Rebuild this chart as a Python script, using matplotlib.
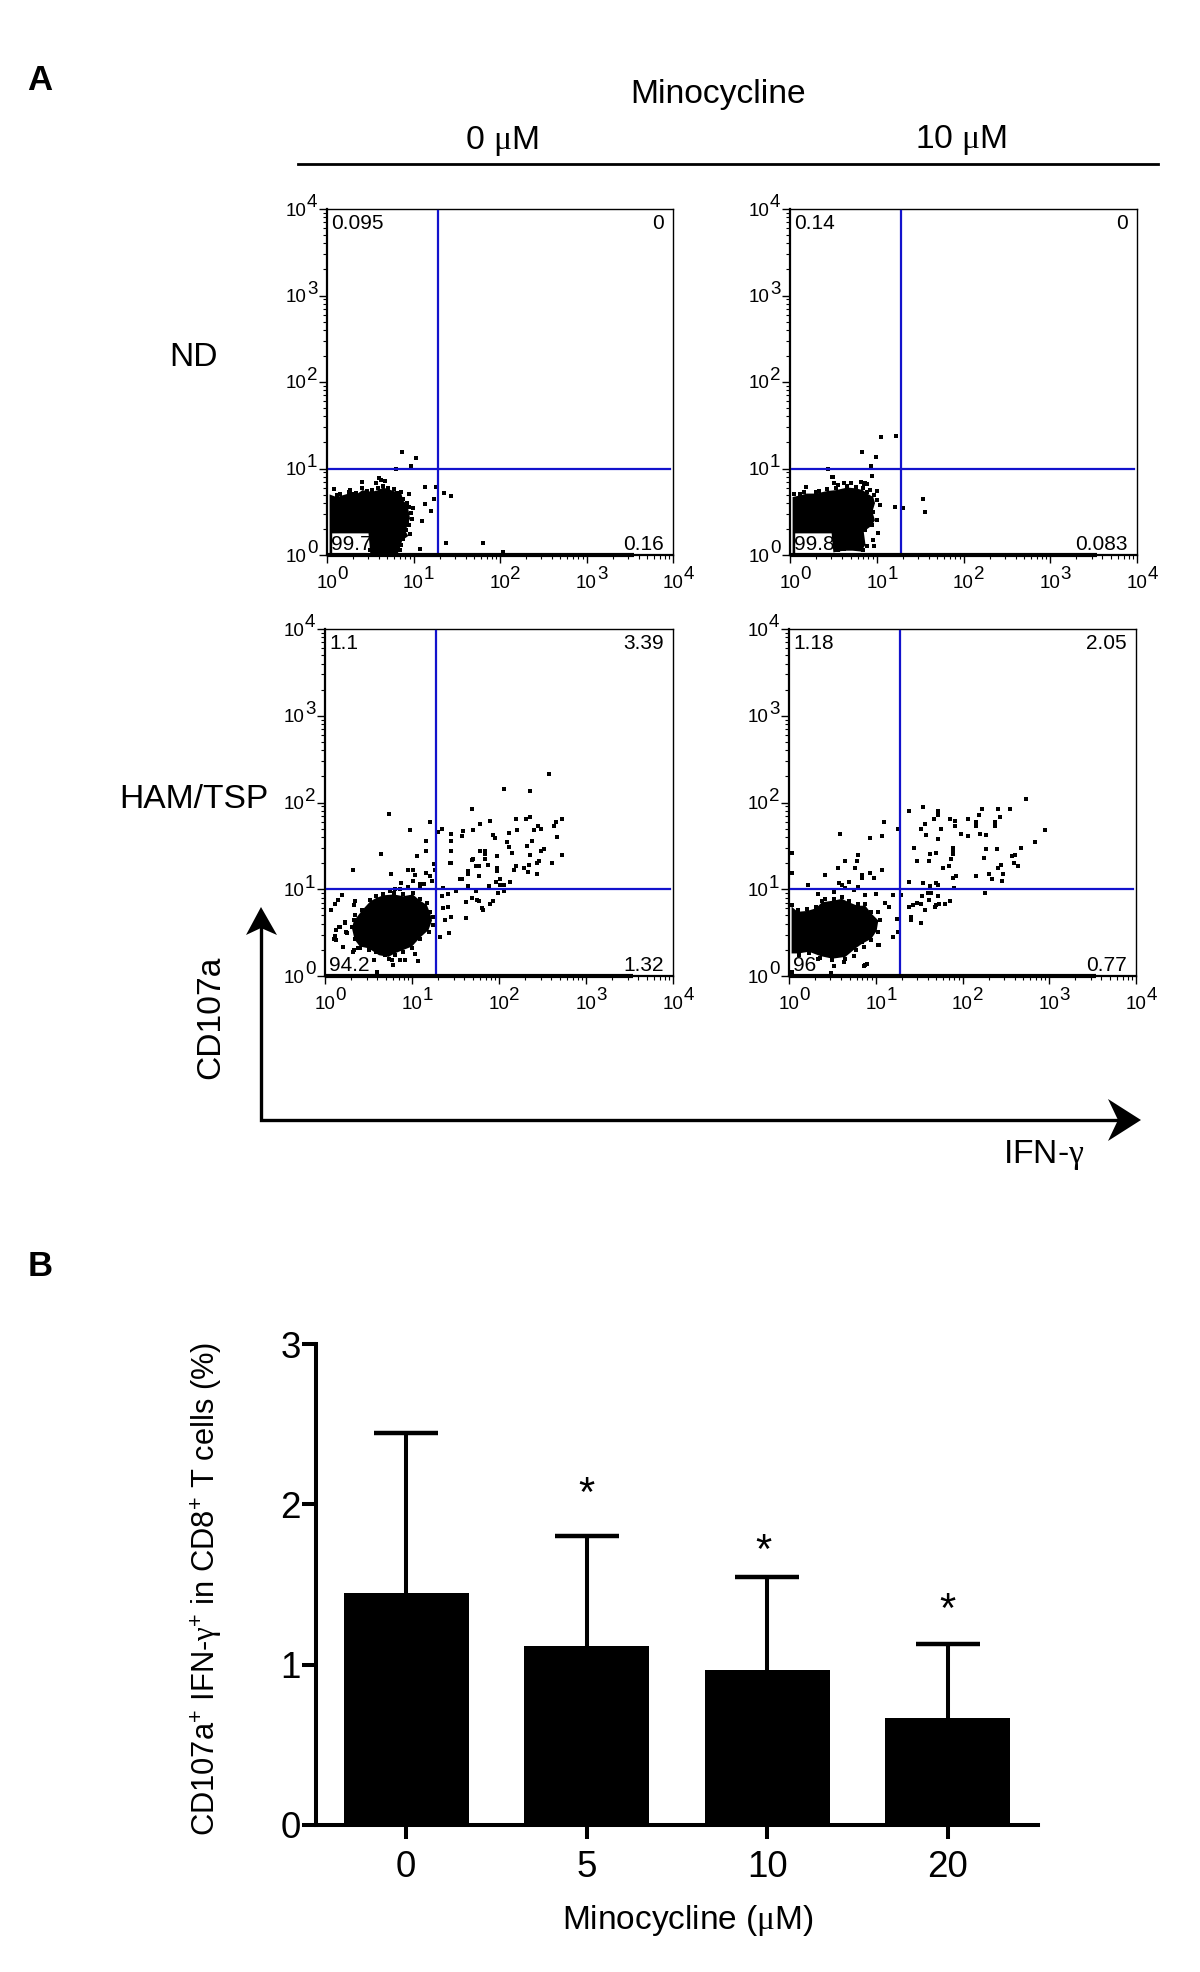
import matplotlib
matplotlib.use('Agg')
import matplotlib.pyplot as plt
from matplotlib.patches import Polygon
from matplotlib.ticker import LogLocator, NullFormatter
import numpy as np

plt.rcParams['font.family'] = ['Liberation Sans', 'DejaVu Sans']
plt.rcParams['mathtext.fontset'] = 'custom'
plt.rcParams['mathtext.rm'] = 'Liberation Sans'
plt.rcParams['mathtext.it'] = 'Liberation Sans'
plt.rcParams['mathtext.tt'] = 'Liberation Serif'
plt.rcParams['mathtext.default'] = 'regular'

W, H = 1200, 1972

# flow panels: events as (log10 IFN-g, log10 CD107a), dense cluster as an outline
nd_0_events = [(0.87, 1.19), (1.03, 1.12), (0.97, 1.03), (0.80, 0.99), (1.13, 0.79), (1.26, 0.79), (1.35, 0.72),
               (1.43, 0.68), (1.24, 0.65), (1.13, 0.59), (1.20, 0.51), (1.10, 0.39), (1.37, 0.14), (1.80, 0.14),
               (1.07, 0.07), (2.04, 0.03), (0.08, 0.76), (0.27, 0.75), (0.41, 0.84), (0.57, 0.83),
               (0.60, 0.89), (0.63, 0.87), (0.67, 0.85), (0.41, 0.77), (0.34, 0.72), (0.52, 0.75), (0.71, 0.78),
               (0.77, 0.76), (0.86, 0.73), (0.95, 0.71), (0.81, 0.72), (0.88, 0.65), (0.93, 0.60), (0.95, 0.56),
               (0.99, 0.54), (0.97, 0.48), (0.98, 0.42), (0.95, 0.35), (0.96, 0.24), (0.91, 0.29), (0.88, 0.19),
               (0.86, 0.12), (0.84, 0.06), (0.73, 0.06), (0.65, 0.10), (0.55, 0.08), (0.50, 0.06), (0.11, 0.69),
               (0.15, 0.71), (0.25, 0.73), (0.30, 0.71), (0.46, 0.74), (0.59, 0.77), (0.65, 0.80), (0.82, 0.64),
               (0.90, 0.46), (0.93, 0.38)]
nd_0_core = [(0.03, 0.70), (0.11, 0.67), (0.25, 0.71), (0.34, 0.70), (0.41, 0.75), (0.52, 0.73), (0.59, 0.75),
             (0.65, 0.78), (0.71, 0.76), (0.77, 0.74), (0.86, 0.71), (0.88, 0.63), (0.93, 0.58), (0.95, 0.48),
             (0.96, 0.42), (0.93, 0.35), (0.91, 0.27), (0.94, 0.22), (0.87, 0.17), (0.85, 0.10), (0.82, 0.02),
             (0.50, 0.02), (0.48, 0.25), (0.06, 0.25), (0.06, 0.02), (0.03, 0.02)]

nd_10_events = [(1.05, 1.36), (1.22, 1.38), (0.83, 1.19), (0.99, 1.13), (0.93, 1.03), (0.94, 0.91), (0.48, 0.90),
                (1.53, 0.65), (1.56, 0.50), (1.30, 0.54), (1.21, 0.56), (0.44, 0.99), (0.85, 0.82), (0.89, 0.82),
                (0.49, 0.90), (0.51, 0.83), (0.55, 0.81), (0.62, 0.83), (0.70, 0.83), (0.82, 0.84), (0.87, 0.83),
                (0.92, 0.75), (1.00, 0.74), (0.84, 0.77), (0.76, 0.79), (0.66, 0.80), (0.53, 0.77), (0.43, 0.76),
                (0.33, 0.74), (0.30, 0.73), (0.19, 0.79), (0.16, 0.73), (0.12, 0.71), (0.05, 0.70), (0.89, 0.73),
                (0.97, 0.69), (1.00, 0.64), (1.04, 0.58), (0.96, 0.50), (1.00, 0.40), (0.95, 0.35), (1.01, 0.25),
                (0.96, 0.17), (0.87, 0.29), (0.89, 0.10), (0.97, 0.10), (0.84, 0.06), (0.72, 0.08), (0.62, 0.07),
                (0.55, 0.06)]
nd_10_core = [(0.03, 0.67), (0.12, 0.69), (0.19, 0.71), (0.30, 0.71), (0.43, 0.74), (0.53, 0.75), (0.66, 0.78),
              (0.76, 0.77), (0.84, 0.75), (0.89, 0.71), (0.96, 0.67), (0.98, 0.60), (0.95, 0.50), (0.98, 0.40),
              (0.93, 0.33), (0.85, 0.27), (0.87, 0.12), (0.82, 0.04), (0.72, 0.05), (0.62, 0.05), (0.50, 0.03),
              (0.48, 0.25), (0.06, 0.25), (0.06, 0.02), (0.03, 0.02)]

ham_0_events = [(2.57, 2.33), (2.06, 2.15), (2.36, 2.13), (1.69, 1.92), (0.73, 1.87), (2.36, 1.83), (2.20, 1.81),
                (2.31, 1.81), (2.72, 1.81), (1.90, 1.79), (1.21, 1.77), (2.66, 1.77), (2.63, 1.73), (1.78, 1.75),
                (0.98, 1.68), (1.34, 1.70), (1.30, 1.66), (1.59, 1.67), (1.70, 1.68), (2.21, 1.68), (2.40, 1.68),
                (2.45, 1.73), (2.48, 1.70), (1.45, 1.64), (1.93, 1.63), (2.12, 1.65), (1.57, 1.61), (1.95, 1.59),
                (2.67, 1.60), (1.16, 1.56), (1.45, 1.56), (2.38, 1.56), (2.09, 1.55), (2.32, 1.50), (2.12, 1.49),
                (2.15, 1.42), (0.64, 1.41), (1.16, 1.44), (1.45, 1.44), (1.78, 1.44), (1.84, 1.44), (1.84, 1.41),
                (2.48, 1.44), (2.52, 1.46), (2.72, 1.39), (1.06, 1.38), (1.98, 1.38), (2.36, 1.39), (1.84, 1.35),
                (1.69, 1.34), (1.70, 1.35), (2.46, 1.33), (1.44, 1.30), (1.45, 1.30), (2.61, 1.30), (2.44, 1.30),
                (1.25, 1.29), (1.87, 1.28), (1.74, 1.27), (1.77, 1.27), (2.20, 1.27), (2.35, 1.28), (0.32, 1.22),
                (0.95, 1.22), (1.01, 1.22), (1.26, 1.22), (1.98, 1.24), (1.98, 1.21), (2.17, 1.22), (2.29, 1.25),
                (2.33, 1.20), (2.44, 1.18), (1.64, 1.21), (1.64, 1.18), (0.76, 1.18), (1.16, 1.19), (1.04, 1.17),
                (1.77, 1.15), (1.21, 1.15), (1.55, 1.12), (1.57, 1.12), (2.01, 1.12), (1.01, 1.10), (1.97, 1.08),
                (2.13, 1.08), (0.87, 1.07), (1.09, 1.06), (1.14, 1.06), (2.01, 1.05), (2.06, 1.05), (1.64, 1.04),
                (1.89, 1.04), (1.36, 1.01), (1.50, 0.98), (1.73, 0.98), (2.06, 0.98), (1.99, 0.96), (1.41, 0.95),
                (1.35, 0.92), (0.19, 0.93), (0.15, 0.88), (0.12, 0.83), (0.07, 0.76), (1.62, 0.85), (1.69, 0.90),
                (1.75, 0.88), (1.77, 0.87), (1.93, 0.87), (1.90, 0.83), (1.36, 0.78), (1.41, 0.80), (1.80, 0.78),
                (1.82, 0.76), (1.45, 0.68), (1.38, 0.65), (1.62, 0.67), (1.42, 0.49), (1.32, 0.45), (1.07, 0.17),
                (1.03, 0.25), (0.60, 0.05), (0.56, 0.18), (0.78, 0.13), (0.92, 0.19), (0.86, 0.19), (0.11, 0.46),
                (0.10, 0.43), (0.13, 0.42), (0.16, 0.57), (0.23, 0.62), (0.24, 0.51), (0.21, 0.33), (0.32, 0.28),
                (0.38, 0.32), (0.34, 0.70), (0.35, 0.87), (0.33, 0.64), (0.31, 0.57), (0.34, 0.43), (0.23, 0.61),
                (0.25, 0.49), (0.17, 0.57), (0.13, 0.53), (0.11, 0.43), (0.33, 0.82), (0.42, 0.76), (0.52, 0.88),
                (0.59, 0.92), (0.67, 0.95), (0.79, 0.96), (0.90, 0.94), (1.01, 0.96), (1.09, 0.89), (1.17, 0.84),
                (1.21, 0.74), (1.24, 0.68), (1.24, 0.59), (1.19, 0.51), (1.09, 0.43), (1.00, 0.32), (0.90, 0.28),
                (0.80, 0.24), (0.73, 0.20), (0.69, 0.24), (0.77, 0.18), (0.59, 0.28), (0.50, 0.30), (0.40, 0.32),
                (0.44, 0.39), (0.33, 0.30), (0.21, 0.33), (0.75, 0.98), (0.80, 1.00), (0.86, 1.00), (0.95, 1.03),
                (1.09, 1.01), (1.01, 1.10), (1.13, 1.06), (1.23, 1.10)]
ham_0_core = [(0.34, 0.42), (0.31, 0.55), (0.33, 0.63), (0.42, 0.75), (0.52, 0.86), (0.59, 0.90), (0.67, 0.93),
              (0.79, 0.94), (0.90, 0.92), (1.01, 0.94), (1.09, 0.87), (1.17, 0.82), (1.21, 0.72), (1.23, 0.64),
              (1.19, 0.53), (1.09, 0.44), (1.00, 0.34), (0.90, 0.30), (0.80, 0.26), (0.73, 0.22), (0.62, 0.24),
              (0.50, 0.32), (0.40, 0.34)]

ham_10_events = [(2.73, 2.04), (1.55, 1.95), (1.38, 1.90), (1.72, 1.90), (1.72, 1.86), (2.22, 1.93), (2.41, 1.92),
                 (2.55, 1.92), (2.19, 1.86), (2.43, 1.83), (1.67, 1.81), (1.86, 1.81), (1.91, 1.79), (1.91, 1.73),
                 (2.06, 1.81), (2.15, 1.78), (2.15, 1.73), (2.37, 1.78), (2.37, 1.73), (1.09, 1.78), (1.57, 1.75),
                 (1.52, 1.70), (1.26, 1.70), (1.75, 1.70), (2.95, 1.68), (0.59, 1.64), (1.98, 1.64), (2.20, 1.64),
                 (2.27, 1.62), (1.58, 1.62), (2.06, 1.61), (0.93, 1.59), (1.07, 1.61), (1.72, 1.58), (2.83, 1.55),
                 (1.44, 1.48), (1.89, 1.47), (1.89, 1.43), (2.27, 1.46), (2.40, 1.46), (2.67, 1.47), (0.04, 1.42),
                 (1.70, 1.42), (1.63, 1.41), (1.89, 1.41), (2.61, 1.39), (2.57, 1.38), (2.25, 1.36), (0.80, 1.39),
                 (1.47, 1.33), (1.61, 1.33), (1.87, 1.35), (0.64, 1.33), (0.78, 1.32), (2.59, 1.30), (2.64, 1.27),
                 (2.44, 1.28), (1.78, 1.25), (1.84, 1.27), (2.41, 1.24), (0.56, 1.25), (0.76, 1.24), (1.07, 1.22),
                 (0.93, 1.19), (0.04, 1.19), (0.42, 1.16), (2.30, 1.18), (2.47, 1.18), (0.84, 1.16), (0.84, 1.13),
                 (1.93, 1.15), (1.89, 1.13), (2.15, 1.15), (2.34, 1.12), (2.46, 1.10), (0.98, 1.13), (0.22, 1.05),
                 (0.58, 1.07), (0.69, 1.08), (1.38, 1.08), (1.54, 1.07), (1.69, 1.07), (1.72, 1.05), (1.63, 1.04),
                 (1.90, 1.01), (2.26, 0.96), (1.60, 0.96), (1.64, 0.96), (1.29, 0.93), (1.20, 0.93), (1.53, 0.92),
                 (1.72, 0.92), (1.61, 0.88), (1.38, 0.79), (1.43, 0.82), (1.47, 0.84), (1.52, 0.83), (1.69, 0.82),
                 (1.73, 0.83), (1.80, 0.83), (1.86, 0.87), (1.57, 0.76), (1.68, 0.79), (1.41, 0.68), (1.41, 0.65),
                 (1.52, 0.61), (1.24, 0.66), (1.26, 0.51), (1.20, 0.45), (1.15, 0.79), (1.11, 0.84), (1.04, 0.36),
                 (0.90, 0.14), (0.87, 0.12), (0.48, 0.03), (0.03, 0.05), (0.04, 0.82), (0.10, 0.76), (0.21, 0.77),
                 (0.31, 0.80), (0.38, 0.87), (0.42, 0.89), (0.52, 0.89), (0.61, 0.91), (0.69, 0.87), (0.79, 0.83),
                 (0.88, 0.83), (0.95, 0.74), (1.03, 0.74), (1.05, 0.64), (1.03, 0.51), (0.95, 0.41), (0.84, 0.39),
                 (0.86, 0.33), (0.77, 0.30), (0.75, 0.23), (0.65, 0.20), (0.63, 0.16), (0.50, 0.18), (0.36, 0.21),
                 (0.33, 0.20), (0.23, 0.26), (0.11, 0.24), (0.52, 0.11), (0.88, 0.13), (1.03, 0.36), (0.34, 0.95),
                 (0.52, 0.97), (0.65, 1.01), (0.75, 0.99), (0.88, 0.93), (1.00, 0.95), (0.79, 1.03), (0.61, 1.05)]
ham_10_core = [(0.03, 0.80), (0.10, 0.74), (0.21, 0.75), (0.31, 0.78), (0.38, 0.85), (0.52, 0.87), (0.61, 0.89),
               (0.69, 0.85), (0.79, 0.81), (0.88, 0.81), (0.95, 0.72), (1.03, 0.64), (1.01, 0.52), (0.95, 0.43),
               (0.84, 0.37), (0.77, 0.32), (0.65, 0.22), (0.50, 0.20), (0.36, 0.23), (0.23, 0.28), (0.11, 0.26),
               (0.03, 0.26)]

# quadrant percentages: upper left, upper right, lower left, lower right
nd_0_pct = ['0.095', '0', '99.7', '0.16']
nd_10_pct = ['0.14', '0', '99.8', '0.083']
ham_0_pct = ['1.1', '3.39', '94.2', '1.32']
ham_10_pct = ['1.18', '2.05', '96', '0.77']

gate_x = 19.0
gate_y = 10.0
decades = [1, 10, 100, 1000, 10000]
exponents = ['0', '1', '2', '3', '4']

# bar chart
doses = ['0', '5', '10', '20']
means = [1.45, 1.116, 0.969, 0.668]
upper = [2.447, 1.80, 1.547, 1.127]
star_x = [1, 1.98, 3]
star_y = [2.06, 1.70, 1.335]


def px_axes(fig, left, top, right, bottom):
    return fig.add_axes([left / W, 1 - bottom / H, (right - left) / W, (bottom - top) / H])


def px_text(fig, x, y, s, **kw):
    kw.setdefault('ha', 'center')
    kw.setdefault('va', 'center')
    return fig.text(x / W, 1 - y / H, s, **kw)


def flow_panel(fig, box, events, core, pct):
    ax = px_axes(fig, *box)
    ax.set_xscale('log')
    ax.set_yscale('log')
    ax.set_xlim(1, 1e4)
    ax.set_ylim(1, 1e4)
    ev = np.array(events)
    cr = np.array(core)
    # lower left number sits under the cluster, as in the original
    ax.text(0.012, 0.029, pct[2], transform=ax.transAxes, fontsize=15, ha='left', va='center', zorder=1)
    ax.fill(10 ** cr[:, 0], 10 ** cr[:, 1], color='black', lw=0, zorder=2)
    ax.scatter(10 ** ev[:, 0], 10 ** ev[:, 1], s=7, marker='s', color='black', linewidths=0, zorder=2, clip_on=False)
    ax.plot([gate_x, gate_x], [1.05, 9500], color='#1212cc', lw=1.6, zorder=3)
    ax.plot([1.05, 9300], [gate_y, gate_y], color='#1212cc', lw=1.6, zorder=3)
    # events piled up on the axis
    ax.plot([1, 3500], [1, 1], color='black', lw=3.0, solid_capstyle='butt', clip_on=False, zorder=3)
    ax.text(0.012, 0.958, pct[0], transform=ax.transAxes, fontsize=15, ha='left', va='center', zorder=4)
    ax.text(0.974, 0.958, pct[1], transform=ax.transAxes, fontsize=15, ha='right', va='center', zorder=4)
    ax.text(0.974, 0.029, pct[3], transform=ax.transAxes, fontsize=15, ha='right', va='center', zorder=4)
    for s in ax.spines.values():
        s.set_linewidth(1.0)
    ax.spines['left'].set_linewidth(1.6)
    ax.spines['bottom'].set_linewidth(1.6)
    ax.set_xticks(decades)
    ax.set_yticks(decades)
    ax.set_xticklabels(['10'] * 5, fontsize=13.5)
    ax.set_yticklabels(['10'] * 5, fontsize=13.5)
    ax.xaxis.set_minor_locator(LogLocator(base=10, subs=np.arange(2, 10), numticks=10))
    ax.yaxis.set_minor_locator(LogLocator(base=10, subs=np.arange(2, 10), numticks=10))
    ax.xaxis.set_minor_formatter(NullFormatter())
    ax.yaxis.set_minor_formatter(NullFormatter())
    ax.tick_params(which='major', length=5.5, width=1.0)
    ax.tick_params(axis='x', which='major', pad=9)
    ax.tick_params(axis='y', which='major', pad=9)
    ax.tick_params(which='minor', length=2.8, width=0.8)
    # exponents are nearly as big as the "10" here, so they are separate texts
    for v, e in zip(decades, exponents):
        ax.annotate(e, xy=(v, 0), xycoords=('data', 'axes fraction'), xytext=(11.3, -14.2),
                    textcoords='offset points', fontsize=13.5, ha='center', va='center')
        ax.annotate(e, xy=(0, v), xycoords=('axes fraction', 'data'), xytext=(-10.7, 4.5),
                    textcoords='offset points', fontsize=13.5, ha='center', va='center')
    return ax


fig = plt.figure(figsize=(W / 100, H / 100), dpi=100, facecolor='white')

flow_panel(fig, (327, 209, 673, 555), nd_0_events, nd_0_core, nd_0_pct)
flow_panel(fig, (790, 209, 1137, 555), nd_10_events, nd_10_core, nd_10_pct)
flow_panel(fig, (325, 629, 673, 976), ham_0_events, ham_0_core, ham_0_pct)
flow_panel(fig, (789, 629, 1136, 976), ham_10_events, ham_10_core, ham_10_pct)

# header and panel letters
px_text(fig, 40, 81, 'A', fontsize=25, fontweight='bold')
px_text(fig, 40, 1267, 'B', fontsize=25, fontweight='bold')
px_text(fig, 718, 94, 'Minocycline', fontsize=24.2)
px_text(fig, 502, 141, '0 $\\mathtt{\\mu}$M', fontsize=24.2)
px_text(fig, 961, 140, '10 $\\mathtt{\\mu}$M', fontsize=24.2)
px_text(fig, 193, 358, 'ND', fontsize=24.2)
px_text(fig, 194, 799, 'HAM/TSP', fontsize=24.2)
px_text(fig, 211, 1017, 'CD107a', fontsize=24.2, rotation=90)
px_text(fig, 1044, 1155, 'IFN-$\\mathtt{\\gamma}$', fontsize=24.2)

header_line = plt.Line2D([298 / W, 1158 / W], [1 - 163.5 / H, 1 - 163.5 / H], transform=fig.transFigure,
                         color='black', lw=2.0)
fig.add_artist(header_line)

# the CD107a / IFN-g arrows
axis_line = plt.Line2D([261 / W, 261 / W, 1125 / W], [1 - 925 / H, 1 - 1120 / H, 1 - 1120 / H],
                       transform=fig.transFigure, color='black', lw=2.4, solid_joinstyle='miter')
fig.add_artist(axis_line)
for pts in ([(261, 907), (246, 935), (261, 928), (277, 935)], [(1141, 1120), (1108, 1099), (1118, 1120), (1108, 1141)]):
    head = Polygon([(p[0] / W, 1 - p[1] / H) for p in pts], closed=True, transform=fig.transFigure,
                   color='black', lw=0)
    fig.add_artist(head)

# panel B
ax = px_axes(fig, 316, 1344, 1038, 1825)
x = np.arange(len(doses))
ax.bar(x, means, width=0.69, color='black')
yerr = [np.zeros(len(means)), np.array(upper) - np.array(means)]
_, caps, _ = ax.errorbar(x, means, yerr=yerr, fmt='none', ecolor='black', elinewidth=2.9, capsize=23, capthick=3.2)
caps[0].set_visible(False)
for xi, yi in zip(star_x, star_y):
    ax.text(xi, yi, '*', fontsize=30, ha='center', va='center')
ax.set_xlim(-0.5, 3.5)
ax.set_ylim(0, 3)
ax.set_xticks(x)
ax.set_xticklabels(doses)
ax.set_yticks([0, 1, 2, 3])
ax.spines['top'].set_visible(False)
ax.spines['right'].set_visible(False)
ax.spines['left'].set_linewidth(2.9)
ax.spines['bottom'].set_linewidth(2.9)
ax.tick_params(length=10, width=2.9, labelsize=26.5)
ax.tick_params(axis='x', pad=8)
ax.tick_params(axis='y', pad=1)

px_text(fig, 688, 1920, 'Minocycline ($\\mathtt{\\mu}$M)', fontsize=24)
px_text(fig, 207, 1589, 'CD107a$^{+}$ IFN-$\\mathtt{\\gamma}^{+}$ in CD8$^{+}$ T cells (%)', fontsize=22.2, rotation=90)

fig.savefig('out.png', dpi=100)
